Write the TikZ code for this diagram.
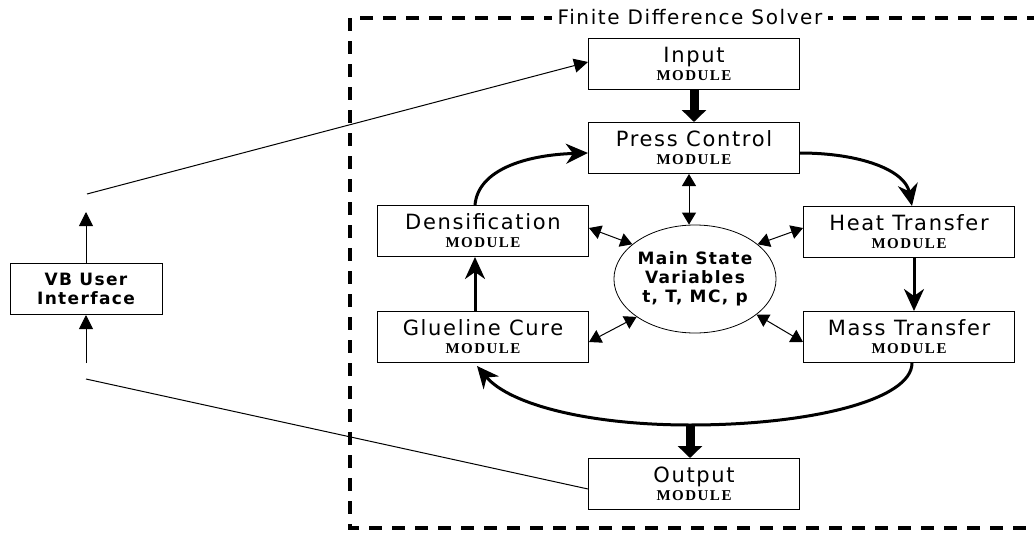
\documentclass[tikz,border=0pt]{standalone}
\usepackage{fontspec}
\setmainfont{DejaVu Sans}[LetterSpace=8]
\newfontfamily\modfont{Liberation Serif}[LetterSpace=10]
\usetikzlibrary{positioning,arrows.meta,shapes.geometric,calc}

\newcommand{\modlabel}[1]{#1\\[-4pt]{\modfont\bfseries\fontsize{15}{15}\selectfont MODULE}}

\tikzset{
  module/.style={draw,line width=1pt,minimum width=211pt,minimum height=51pt,align=center,inner sep=0pt,
    font=\fontsize{21}{22}\selectfont},
  thickarrow/.style={line width=3pt,-{Stealth[length=22pt,width=20pt,inset=7pt]}},
  dblarrow/.style={line width=1pt,{Triangle[length=12pt,width=14pt]}-{Triangle[length=12pt,width=14pt]}},
  thinline/.style={line width=1pt}
}

\begin{document}
\begin{tikzpicture}[x=1pt,y=-1pt]
\useasboundingbox (0,0) rectangle (1034,533);

% solver frame
\draw[line width=4pt,dash pattern=on 13pt off 10pt] (1040,18) -- (350,18) -- (350,528) -- (1040,528);
\node[fill=white,inner xsep=6pt,inner ysep=1pt,font=\fontsize{20}{20}\selectfont] (title) at (690,17) {Finite Difference Solver};

% modules
\node[module] (in) at (694,64) {\modlabel{Input}};
\node[module] (pc) at (694,148) {\modlabel{Press Control}};
\node[module] (dens) at (483,231) {\modlabel{Densification}};
\node[module] (heat) at (909,232) {\modlabel{Heat Transfer}};
\node[module] (glue) at (483,337) {\modlabel{Glueline Cure}};
\node[module] (mass) at (909,337) {\modlabel{Mass Transfer}};
\node[module] (out) at (694,484) {\modlabel{Output}};
\node[draw,ellipse,line width=0.8pt,minimum width=136pt,minimum height=108pt,inner sep=0pt,align=center,font=\bfseries\fontsize{17}{19}\selectfont] (msv) at (695,279) {Main State\\Variables\\t, T, MC, p};

\node[draw,line width=1pt,minimum width=152pt,minimum height=51pt,align=center,inner sep=0pt,font=\bfseries\fontsize{17}{19}\selectfont] (vb) at (86,289) {VB User\\Interface};

% loose ends
\coordinate (vbout) at (86,212);
\coordinate (vbin) at (86,363);
\coordinate (vbtop) at (87,194);
\coordinate (vbbot) at (86,379);
\coordinate (bot) at (690,425);

% flow of modules
\draw[line width=9pt,-{Triangle[length=12pt,width=24pt]}] (in.south) -- (pc.north);
\draw[thickarrow] ([yshift=-5pt]pc.east) .. controls (860,153) and (905,170) .. ([xshift=3pt]heat.north);
\draw[thickarrow] ([xshift=5pt]heat.south) -- ([xshift=5pt]mass.north);
\draw[line width=3pt] ([xshift=3pt]mass.south) .. controls (912,400) and (810,425) .. (bot);
\draw[thickarrow] (bot) .. controls (590,425) and (510,405) .. ([xshift=-6pt,yshift=-3pt]glue.south);
\draw[line width=9pt,-{Triangle[length=12pt,width=24pt]}] (bot) -- (bot |- out.north);
\draw[thickarrow] ([xshift=-8pt]glue.north) -- ([xshift=-8pt]dens.north |- dens.south);
\draw[thickarrow] ([xshift=-8pt]dens.north) .. controls (478,170) and (525,155) .. ([yshift=-5pt]pc.west);

% state variables
\draw[dblarrow] ([xshift=-5pt]pc.south) -- (msv.north -| {$(pc.south)+(-5,0)$});
\draw[dblarrow] ([yshift=3pt]dens.east) -- (msv.151);
\draw[dblarrow] ([yshift=4pt]heat.west) -- (msv.29);
\draw[dblarrow] ([yshift=-5pt]glue.east) -- (msv.213);
\draw[dblarrow] ([yshift=-5pt]mass.west) -- (msv.330);

% user interface
\draw[thinline,-{Triangle[length=14pt,width=14pt]}] (vb.north) -- (vbout);
\draw[thinline,-{Triangle[length=14pt,width=14pt]}] (vbin) -- (vb.south);
\draw[thinline,-{Triangle[length=14pt,width=14pt]}] (vbtop) -- ([yshift=2pt]in.west);
\draw[thinline] (vbbot) -- ([yshift=-5pt]out.west);

\end{tikzpicture}
\end{document}
